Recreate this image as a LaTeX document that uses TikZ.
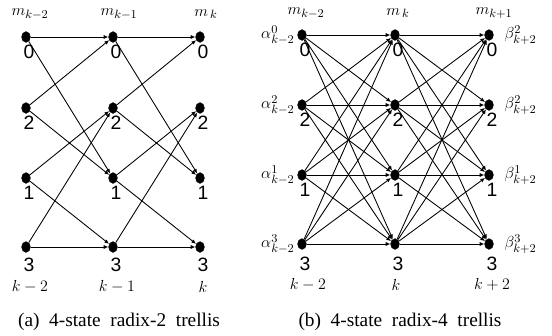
\documentclass[tikz,border=0pt]{standalone}
\usepackage{fontspec}
\setmainfont{Liberation Serif}
\newfontfamily\statefont{Liberation Sans}
\usetikzlibrary{arrows.meta, positioning, shapes.geometric}

\begin{document}
\begin{tikzpicture}[
    x=0.75pt, y=-0.75pt,
    dot/.style={draw, fill, ellipse, inner sep=0pt, minimum width=6.5pt, minimum height=8pt},
    state/.style={font=\statefont\fontsize{14.5}{15}\selectfont, inner sep=0pt},
    tlabel/.style={font=\fontsize{13}{14}\selectfont, inner sep=0pt},
    trans/.style={-{Latex[length=3.5pt, width=3pt]}, line width=0.65pt},
    caption/.style={font=\fontsize{14.5}{16}\selectfont, inner sep=0pt}
]
\useasboundingbox (0,0) rectangle (552,335);

% (a) radix-2 trellis
\foreach \c/\x in {0/26, 1/113, 2/200}
  \foreach \r/\y/\s/\ly in {0/37/0/52, 1/108/2/123, 2/178/1/193, 3/247/3/265} {
    \node[dot] (a\c\r) at (\x,\y) {};
    \node[state] (sa\c\r) at (\x+3,\ly) {\s};
  }
\foreach \c/\n in {0/1, 1/2}
  \foreach \i/\j in {0/0, 0/2, 1/0, 1/2, 2/1, 2/3, 3/1, 3/3}
    \draw[trans] (a\c\i) -- (a\n\j);

\node[tlabel] (ma0) at (30,14) {$m_{k-2}$};
\node[tlabel] (ma1) at (119,14) {$m_{k-1}$};
\node[tlabel] (ma2) at (206,14) {$m_{\,k}$};
\node[tlabel] (ka0) at (30,287) {$k-2$};
\node[tlabel] (ka1) at (117,287) {$k-1$};
\node[tlabel] (ka2) at (203,287) {$k$};
\node[caption] (capa) at (119,322) {(a)~~4-state~~radix-2~~trellis};

% (b) radix-4 trellis
\foreach \c/\x in {0/302, 1/395, 2/489}
  \foreach \r/\y/\s/\ly in {0/35/0/50, 1/105/2/120, 2/175/1/190, 3/244/3/264} {
    \node[dot] (b\c\r) at (\x,\y) {};
    \node[state] (sb\c\r) at (\x+3,\ly) {\s};
  }
\foreach \c/\n in {0/1, 1/2}
  \foreach \i in {0,...,3}
    \foreach \j in {0,...,3}
      \draw[trans] (b\c\i) -- (b\n\j);

\node[tlabel, left=2pt of b00] (al0) {$\alpha{}^0_{k-2}$};
\node[tlabel, left=2pt of b01] (al1) {$\alpha{}^2_{k-2}$};
\node[tlabel, left=2pt of b02] (al2) {$\alpha{}^1_{k-2}$};
\node[tlabel, left=2pt of b03] (al3) {$\alpha{}^3_{k-2}$};
\node[tlabel, right=8pt of b20] (be0) {$\beta^2_{k+2}$};
\node[tlabel, right=8pt of b21] (be1) {$\beta^2_{k+2}$};
\node[tlabel, right=8pt of b22] (be2) {$\beta^1_{k+2}$};
\node[tlabel, right=8pt of b23] (be3) {$\beta^3_{k+2}$};

\node[tlabel] (mb0) at (306,13) {$m_{k-2}$};
\node[tlabel] (mb1) at (398,13) {$m_{\,k}$};
\node[tlabel] (mb2) at (494,13) {$m_{k+1}$};
\node[tlabel] (kb0) at (308,285) {$k-2$};
\node[tlabel] (kb1) at (396,285) {$k$};
\node[tlabel] (kb2) at (492,285) {$k+2$};
\node[caption] (capb) at (400,322) {(b)~~4-state~~radix-4~~trellis};
\end{tikzpicture}
\end{document}
